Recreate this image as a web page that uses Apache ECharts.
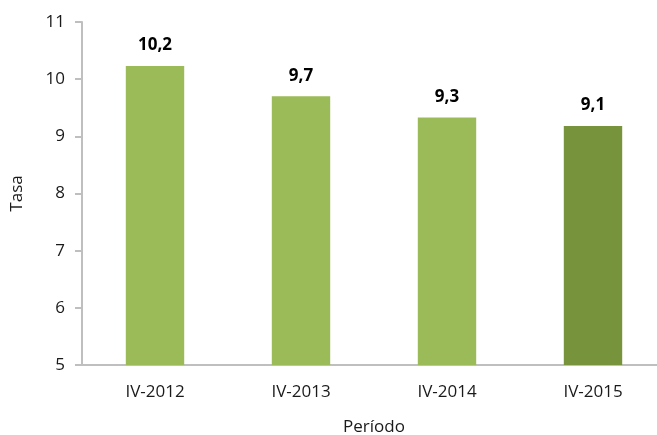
<!DOCTYPE html>
<html>
<head>
<meta charset="utf-8">
<script src="https://cdn.jsdelivr.net/npm/echarts@6/dist/echarts.min.js"></script>
<style>
  html, body { margin: 0; padding: 0; background: #fff; }
  #chart { width: 657px; height: 435px; }
</style>
</head>
<body>
<div id="chart"></div>
<script>
var periods = ['IV-2012', 'IV-2013', 'IV-2014', 'IV-2015'];
var rates = [10.23, 9.70, 9.33, 9.18];
var rateLabels = ['10,2', '9,7', '9,3', '9,1'];
var barColors = ['#9BBB59', '#9BBB59', '#9BBB59', '#77933C'];

var font = 'Open Sans';
var chart = echarts.init(document.getElementById('chart'));

chart.setOption({
    animation: false,
    grid: { left: 82, right: -9, top: 22, bottom: 70, outerBoundsMode: 'none', containLabel: false },
    xAxis: {
        type: 'category',
        data: periods,
        name: 'Período',
        nameLocation: 'middle',
        nameGap: 54,
        nameTextStyle: { fontFamily: font, fontSize: 17, color: '#1a1a1a' },
        axisLine: { lineStyle: { color: '#BFBFBF', width: 2 } },
        axisTick: { show: false },
        axisLabel: { fontFamily: font, fontSize: 17, color: '#1a1a1a', margin: 19 }
    },
    yAxis: {
        type: 'value',
        min: 5,
        max: 11,
        interval: 1,
        name: 'Tasa',
        nameLocation: 'middle',
        nameGap: 56,
        nameRotate: 90,
        nameTextStyle: { fontFamily: font, fontSize: 17, color: '#1a1a1a' },
        axisLine: { show: true, lineStyle: { color: '#BFBFBF', width: 2 } },
        axisTick: { show: true, length: 7, lineStyle: { color: '#BFBFBF', width: 2 } },
        axisLabel: { fontFamily: font, fontSize: 17, color: '#1a1a1a', margin: 17 },
        splitLine: { show: false }
    },
    series: [{
        type: 'bar',
        barWidth: '40%',
        data: rates.map(function (v, i) {
            return { value: v, itemStyle: { color: barColors[i] } };
        }),
        label: {
            show: true,
            position: 'top',
            distance: 12,
            fontFamily: font,
            fontSize: 17,
            fontWeight: 'bold',
            color: '#000',
            formatter: function (p) { return rateLabels[p.dataIndex]; }
        }
    }]
});
</script>
</body>
</html>
